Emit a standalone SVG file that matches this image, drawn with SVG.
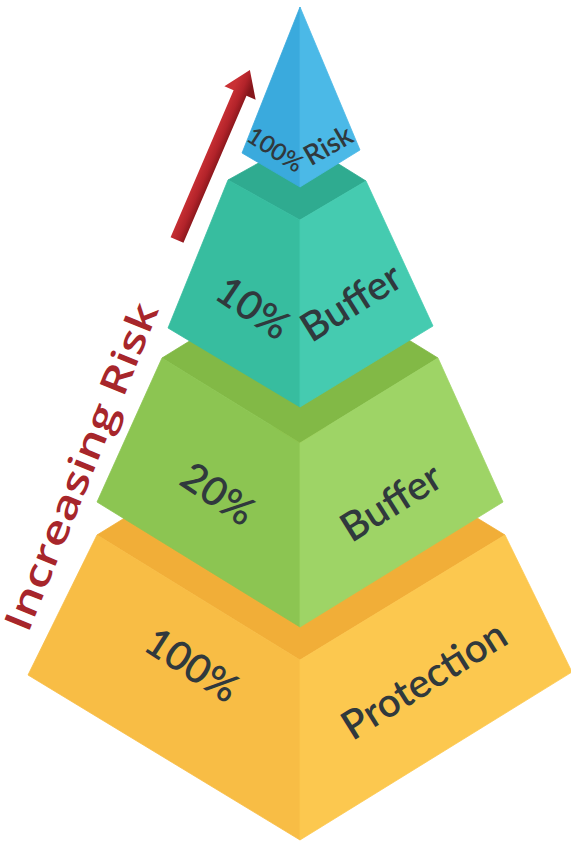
<svg xmlns="http://www.w3.org/2000/svg" width="571" height="844" viewBox="0 0 571 844">
<defs>
<linearGradient id="arrowGrad" gradientUnits="userSpaceOnUse" x1="0" y1="-8" x2="0" y2="8">
<stop offset="0" stop-color="#c93034"/>
<stop offset="0.55" stop-color="#b2232a"/>
<stop offset="1" stop-color="#86161b"/>
</linearGradient>
<style>
.face{stroke-width:0.8;stroke-linejoin:round}
.lbl{font-family:Lato,"Open Sans","Liberation Sans",sans-serif;font-weight:600;fill:#30393d;text-anchor:middle}
.big{font-size:40px}
.small{font-size:24px}
.o-l{fill:#f8bd45;stroke:#f8bd45}.o-r{fill:#fcc84f;stroke:#fcc84f}.o-t{fill:#f1ae38;stroke:#f1ae38}
.g-l{fill:#8cc552;stroke:#8cc552}.g-r{fill:#9ed466;stroke:#9ed466}.g-t{fill:#82b946;stroke:#82b946}
.t-l{fill:#37bd9f;stroke:#37bd9f}.t-r{fill:#45cbb0;stroke:#45cbb0}.t-t{fill:#2fab90;stroke:#2fab90}
.b-l{fill:#3aaadd;stroke:#3aaadd}.b-r{fill:#4bb9e7;stroke:#4bb9e7}
</style>
</defs>
<rect width="571" height="844" fill="#ffffff"/>

<g id="tier-protection">
<polygon class="face o-t" points="97,535 300,660 505,535 300,410"/>
<polygon class="face o-l" points="97,535 300,660 300,840 28,675"/>
<polygon class="face o-r" points="300,660 505,535 572,672 300,840"/>
<text class="lbl big" transform="translate(192,665) rotate(33)" y="14">100%</text>
<text class="lbl big" transform="translate(424,680) rotate(-32)" y="14">Protection</text>
</g>

<g id="tier-buffer20">
<polygon class="face g-t" points="162,358 300,443 438,358 300,273"/>
<polygon class="face g-l" points="162,358 300,443 300,627 97,502"/>
<polygon class="face g-r" points="300,443 438,358 503,502 300,627"/>
<text class="lbl big" transform="translate(218,494) rotate(34)" y="14">20%</text>
<text class="lbl big" transform="translate(391,502) rotate(-32)" y="14">Buffer</text>
</g>

<g id="tier-buffer10">
<polygon class="face t-t" points="228,180 300,220 366,181 300,140"/>
<polygon class="face t-l" points="228,180 300,220 300,407 168,328"/>
<polygon class="face t-r" points="300,220 366,181 433,326 300,407"/>
<text class="lbl big" transform="translate(253,308) rotate(34)" y="14">10%</text>
<text class="lbl big" transform="translate(351,302) rotate(-32)" y="14">Buffer</text>
</g>

<g id="tier-risk">
<polygon class="face b-l" points="300,7 242,153 300,187"/>
<polygon class="face b-r" points="300,7 300,187 360,150"/>
<text class="lbl small" transform="translate(275,150) rotate(33)" y="8">100%</text>
<text class="lbl small" transform="translate(328,145) rotate(-30)" y="10" style="font-size:28px">Risk</text>
</g>

<g id="connectors">
<polygon transform="translate(177,240) rotate(-66.8)" fill="url(#arrowGrad)" points="0,-7 160,-7 160,-17 185,0 160,17 160,7 0,7"/>
</g>

<g id="axis-label">
<text transform="translate(28,634) rotate(-68)" textLength="350" lengthAdjust="spacingAndGlyphs" style="font-family:'Open Sans','Liberation Sans',sans-serif;font-size:38px;font-weight:600;fill:#a7262b">Increasing Risk</text>
</g>
</svg>
